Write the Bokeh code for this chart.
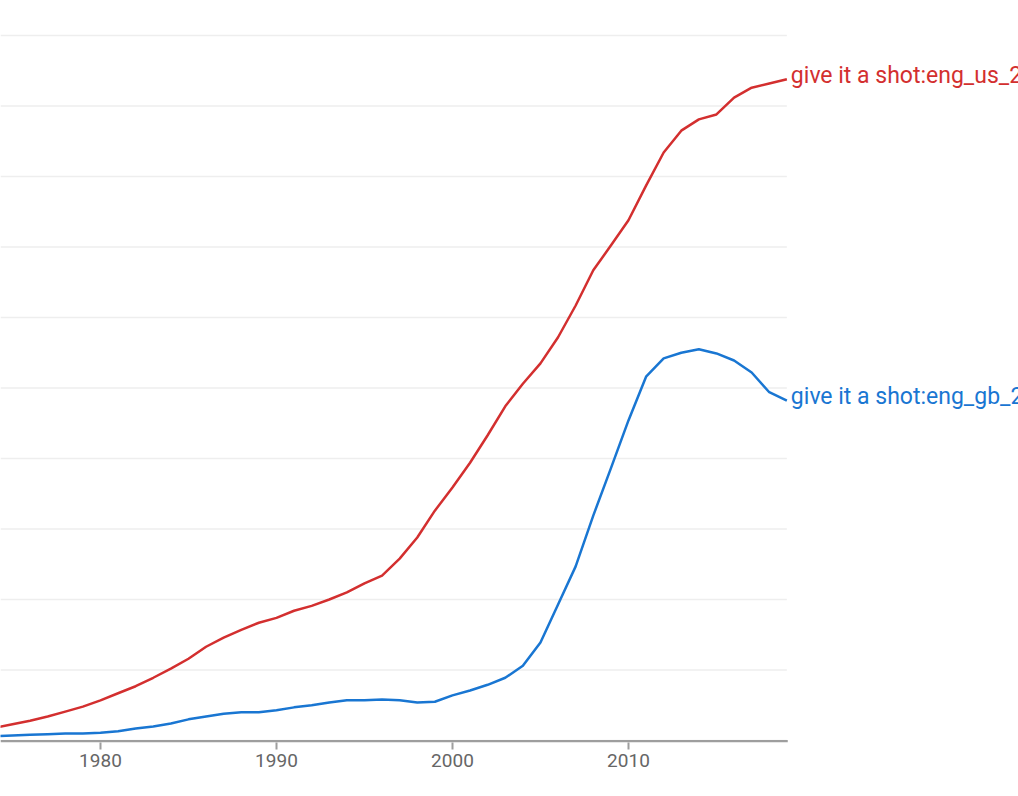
from bokeh.plotting import figure
from bokeh.models import FixedTicker, Range1d
from bokeh.core.properties import value
from bokeh.embed import file_html
from bokeh.resources import INLINE

years = list(range(1974, 2020))
us_values = [0.18, 0.23, 0.28, 0.34, 0.41, 0.48, 0.57, 0.67, 0.77, 0.89,
             1.02, 1.16, 1.33, 1.46, 1.57, 1.67, 1.74, 1.84, 1.91, 2.00,
             2.10, 2.23, 2.34, 2.58, 2.88, 3.26, 3.59, 3.94, 4.33, 4.74,
             5.06, 5.35, 5.72, 6.17, 6.67, 7.02, 7.38, 7.87, 8.34, 8.65,
             8.81, 8.88, 9.12, 9.26, 9.32, 9.38]
gb_values = [0.06, 0.07, 0.08, 0.09, 0.10, 0.10, 0.11, 0.13, 0.17, 0.20,
             0.24, 0.30, 0.34, 0.38, 0.40, 0.40, 0.43, 0.47, 0.50, 0.54,
             0.57, 0.57, 0.58, 0.57, 0.54, 0.55, 0.64, 0.71, 0.79, 0.89,
             1.06, 1.39, 1.93, 2.47, 3.19, 3.86, 4.54, 5.16, 5.42, 5.50,
             5.55, 5.49, 5.39, 5.22, 4.94, 4.82]
series_labels = ["give it a shot:eng_us_2019", "give it a shot:eng_gb_2019"]
series_colors = ["#d32f2f", "#1976d2"]
x_ticks = [1980, 1990, 2000, 2010]
y_grid = list(range(0, 11))

X0 = 1974.32
X1 = X0 + 1018 / 17.6
Y0 = -2 / 70.5
Y1 = 10 + 35 / 70.5
last_year = years[-1]

p = figure(frame_width=1018, frame_height=742, width=1018, height=792,
           output_backend="svg", toolbar_location=None,
           x_range=Range1d(X0, X1), y_range=Range1d(Y0, Y1),
           min_border_left=0, min_border_right=0, min_border_top=0,
           min_border_bottom=50)
p.outline_line_color = None
p.background_fill_color = "white"
p.border_fill_color = "white"

# horizontal gridlines, limited to the plotted span
p.segment(x0=[X0] * len(y_grid), y0=y_grid, x1=[last_year] * len(y_grid), y1=y_grid,
          line_color="#eeeeee", line_width=1.5)
# axis line, limited to the plotted span
p.segment(x0=[X0], y0=[-0.75 / 70.5], x1=[last_year + 0.05], y1=[-0.75 / 70.5],
          line_color="#9e9e9e", line_width=2.5)

for vals, col in zip([us_values, gb_values], series_colors):
    p.line(years, vals, line_color=col, line_width=2.5, line_join="round")

for vals, col, lab in zip([us_values, gb_values], series_colors, series_labels):
    p.text(x=[last_year], y=[vals[-1]], text=[lab], x_offset=4, y_offset=-4,
           text_baseline="middle", text_align="left", text_color=col,
           text_font=value("Roboto"), text_font_size="23px")

p.xaxis.ticker = FixedTicker(ticks=x_ticks)
p.xaxis.axis_line_color = None
p.xaxis.major_tick_line_color = "#9e9e9e"
p.xaxis.major_tick_line_width = 2
p.xaxis.major_tick_out = 7
p.xaxis.major_tick_in = 0
p.xaxis.minor_tick_line_color = None
p.xaxis.major_label_text_font = "Roboto"
p.xaxis.major_label_text_font_size = "19px"
p.xaxis.major_label_text_color = "#666666"
p.xaxis.major_label_standoff = 4

p.yaxis.visible = False
p.ygrid.visible = False
p.xgrid.visible = False

open("out.html", "w").write(file_html(p, INLINE))
